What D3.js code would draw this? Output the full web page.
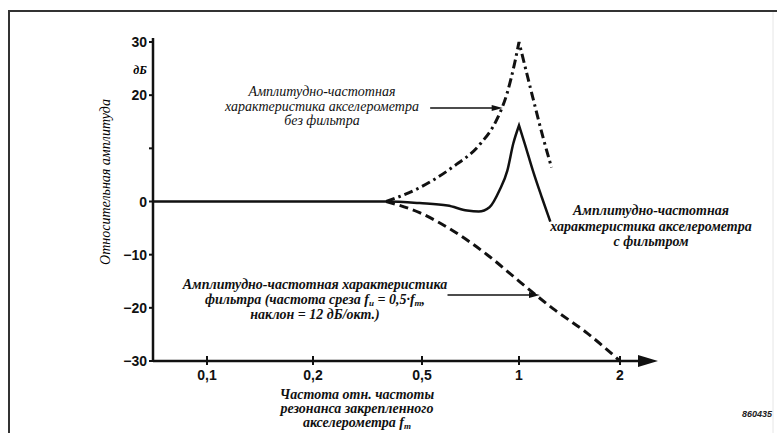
<!DOCTYPE html>
<html lang="ru">
<head>
<meta charset="utf-8">
<script src="https://cdn.jsdelivr.net/npm/d3@7"></script>
<style>
  body { margin: 0; background: #fff; }
  svg { display: block; }
</style>
</head>
<body>
<div id="grafico"></div>
<script>
// Отметки осей
const ticksY = [30, 20, 10, 0, -10, -20, -30];
const etiquetasY = ["30", "20", "", "0", "−10", "−20", "−30"];
const ticksX = [0.1, 0.2, 0.5, 1, 2];
const etiquetasX = ["0,1", "0,2", "0,5", "1", "2"];

// АЧХ акселерометра с фильтром (сплошная)
const fConFiltro  = [0.07, 0.37, 0.49, 0.60, 0.69, 0.75, 0.81, 0.87, 0.92, 0.96, 1.0, 1.04, 1.10, 1.17, 1.24];
const dbConFiltro = [0, 0, -0.3, -0.75, -1.7, -1.9, -1.1, 2.1, 5.8, 10.9, 14.3, 10.9, 5.8, 0.75, -3.8];

// АЧХ акселерометра без фильтра (штрихпунктир)
const fSinFiltro  = [0.37, 0.49, 0.62, 0.76, 0.85, 0.92, 0.97, 1.0, 1.10, 1.18, 1.25];
const dbSinFiltro = [0, 2.6, 6.4, 10.9, 15.2, 20.5, 26.1, 30, 19.5, 12.0, 6.4];

// АЧХ фильтра (пунктир)
const fFiltro  = [0.37, 0.49, 0.62, 0.80, 1.01, 1.26, 1.60, 2.0];
const dbFiltro = [0, -2.1, -5.4, -10.1, -15.2, -20.1, -24.8, -30];

const ancho = 777;
const alto = 433;
const serif = "'Liberation Serif', 'DejaVu Serif', serif";
const sans = "'Liberation Sans', Arial, sans-serif";

const svg = d3.select("#grafico")
    .append("svg")
    .attr("width", ancho)
    .attr("height", alto);

// Рамка
svg.append("path")
    .attr("d", "M9,433 V11 H777")
    .attr("fill", "none")
    .attr("stroke", "#333")
    .attr("stroke-width", 2);
svg.append("line")
    .attr("x1", 773).attr("x2", 773).attr("y1", 12).attr("y2", 433)
    .attr("stroke", "#e6e6e6")
    .attr("stroke-width", 1);

// Шкала частот: логарифмическая по участкам (как на исходном рисунке)
const escalaX = d3.scaleLog()
    .domain(ticksX)
    .range([207, 313, 422, 519, 620]);
const escalaY = d3.scaleLinear()
    .domain([-30, 30])
    .range([361, 42]);

const x0 = 153;
const y0 = escalaY(-30);

// Ось Y
svg.append("line")
    .attr("x1", x0).attr("x2", x0)
    .attr("y1", escalaY(30) - 4).attr("y2", y0)
    .attr("stroke", "#111").attr("stroke-width", 2.5);
svg.selectAll(".tickY")
    .data(ticksY)
    .enter()
    .append("line")
    .attr("x1", x0 - 4).attr("x2", x0)
    .attr("y1", d => escalaY(d)).attr("y2", d => escalaY(d))
    .attr("stroke", "#111").attr("stroke-width", 2);
svg.selectAll(".etiquetaY")
    .data(ticksY)
    .enter()
    .append("text")
    .attr("x", x0 - 6)
    .attr("y", d => escalaY(d) + 5)
    .attr("text-anchor", "end")
    .style("font-family", sans)
    .style("font-weight", "bold")
    .style("font-size", "14px")
    .style("fill", "#111")
    .text((d, i) => etiquetasY[i]);

svg.append("text")
    .attr("x", 140).attr("y", 74)
    .attr("text-anchor", "middle")
    .style("font-family", serif)
    .style("font-style", "italic")
    .style("font-weight", "bold")
    .style("font-size", "12px")
    .text("дБ");

svg.append("text")
    .attr("transform", "translate(110,182) rotate(-90)")
    .attr("text-anchor", "middle")
    .style("font-family", serif)
    .style("font-style", "italic")
    .style("font-size", "14px")
    .text("Относительная амплитуда");

// Ось X со стрелкой
svg.append("line")
    .attr("x1", x0).attr("x2", 645)
    .attr("y1", y0).attr("y2", y0)
    .attr("stroke", "#111").attr("stroke-width", 2.5);
svg.append("path")
    .attr("d", `M638,${y0 - 6} L658,${y0} L638,${y0 + 6} Z`)
    .attr("fill", "#111");
svg.selectAll(".tickX")
    .data(ticksX)
    .enter()
    .append("line")
    .attr("x1", d => escalaX(d)).attr("x2", d => escalaX(d))
    .attr("y1", y0 - 5).attr("y2", y0 + 4)
    .attr("stroke", "#111").attr("stroke-width", 2);
svg.selectAll(".etiquetaX")
    .data(ticksX)
    .enter()
    .append("text")
    .attr("x", d => escalaX(d))
    .attr("y", y0 + 19)
    .attr("text-anchor", "middle")
    .style("font-family", sans)
    .style("font-weight", "bold")
    .style("font-size", "14px")
    .style("fill", "#111")
    .text((d, i) => etiquetasX[i]);

// Кривые: пик рисуем острым — две половины одной линии
const generadorLinea = d3.line()
    .x(d => escalaX(d[0]))
    .y(d => escalaY(d[1]))
    .curve(d3.curveMonotoneX);

function trazo(f, db) {
    const pts = f.map((v, i) => [v, db[i]]);
    const ip = db.indexOf(d3.max(db));
    if (ip <= 0 || ip >= pts.length - 1) return generadorLinea(pts);
    return generadorLinea(pts.slice(0, ip + 1)) + generadorLinea(pts.slice(ip)).replace(/^M/, "L");
}

const curvas = [
    { f: fFiltro, db: dbFiltro, dash: "9,5", ancho: 3 },
    { f: fSinFiltro, db: dbSinFiltro, dash: "9,4,2.5,4", ancho: 3 },
    { f: fConFiltro, db: dbConFiltro, dash: null, ancho: 2.5 }
];

svg.selectAll(".curva")
    .data(curvas)
    .enter()
    .append("path")
    .attr("fill", "none")
    .attr("stroke", "#111")
    .attr("stroke-width", d => d.ancho)
    .attr("stroke-dasharray", d => d.dash)
    .attr("d", d => trazo(d.f, d.db));

// Стрелки подписей (в единицах графика)
function flecha(f1, f2, db) {
    const xa = escalaX(f1), xb = escalaX(f2), yy = escalaY(db);
    svg.append("line")
        .attr("x1", xa).attr("x2", xb - 8)
        .attr("y1", yy).attr("y2", yy)
        .attr("stroke", "#111").attr("stroke-width", 1.5);
    svg.append("path")
        .attr("d", `M${xb - 11},${yy - 3} L${xb},${yy} L${xb - 11},${yy + 3} Z`)
        .attr("fill", "#111");
}
flecha(0.53, 0.89, 17.6);
flecha(0.60, 1.155, -17.6);

// Подписи
function bloque(xc, yb, lineas, negrita, paso) {
    const t = svg.append("text")
        .attr("text-anchor", "middle")
        .style("font-family", serif)
        .style("font-style", "italic")
        .style("font-weight", negrita ? "bold" : "normal")
        .style("font-size", "14px")
        .style("fill", "#111");
    lineas.forEach((l, i) => {
        const ts = t.append("tspan").attr("x", xc).attr("y", yb + i * paso);
        l.forEach(p => {
            if (typeof p === "string") ts.append("tspan").text(p);
            else ts.append("tspan").attr("dy", p.dy).style("font-size", p.size || null).text(p.t);
        });
    });
}

bloque(322, 96, [
    ["Амплитудно-частотная"],
    ["характеристика акселерометра"],
    ["без фильтра"]
], false, 14.5);

bloque(651, 215, [
    ["Амплитудно-частотная"],
    ["характеристика акселерометра"],
    ["с фильтром"]
], true, 15.5);

bloque(315, 289, [
    ["Амплитудно-частотная характеристика"],
    ["фильтра (частота среза f", { t: "u", dy: 2, size: "9px" }, { t: " = 0,5·f", dy: -2 }, { t: "m", dy: 2, size: "9px" }, { t: ",", dy: -2 }],
    ["наклон = 12 дБ/окт.)"]
], true, 15);

bloque(357, 399, [
    ["Частота отн. частоты"],
    ["резонанса закрепленного"],
    ["акселерометра f", { t: "m", dy: 2, size: "9px" }]
], true, 14);

svg.append("text")
    .attr("x", 772).attr("y", 417)
    .attr("text-anchor", "end")
    .style("font-family", sans)
    .style("font-style", "italic")
    .style("font-weight", "bold")
    .style("font-size", "9px")
    .style("fill", "#222")
    .text("860435");
</script>
</body>
</html>
